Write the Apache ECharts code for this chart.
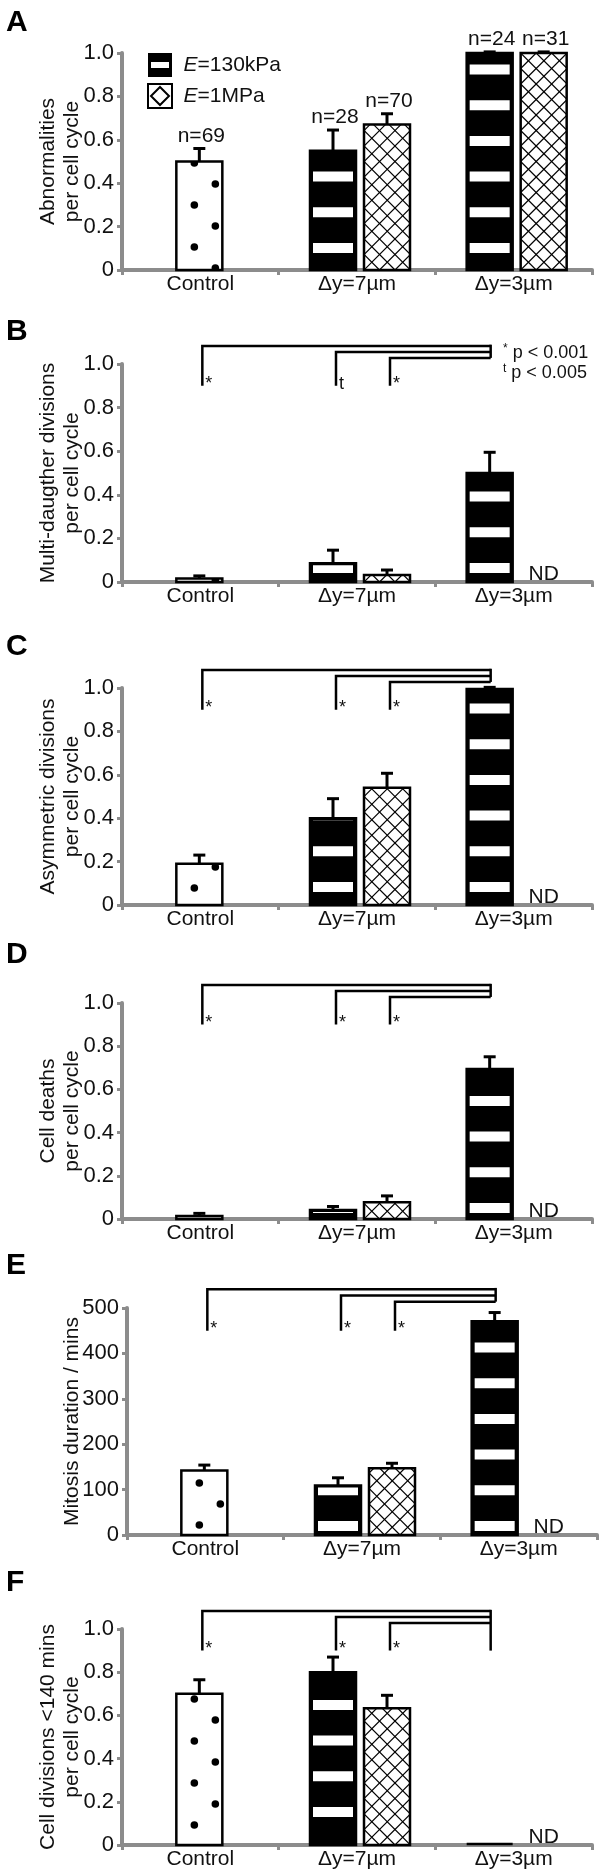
<!DOCTYPE html>
<html>
<head>
<meta charset="utf-8">
<script src="https://cdn.jsdelivr.net/npm/echarts@6/dist/echarts.min.js"></script>
<style>
  html, body { margin: 0; padding: 0; background: #fff; }
  #chart { width: 608px; height: 1876px; }
</style>
</head>
<body>
<div id="chart"></div>
<script>
// ---- data ----
const categories = ['Control', 'Δy=7µm', 'Δy=3µm'];
const panelLetters = ['A', 'B', 'C', 'D', 'E', 'F'];
const yTitles = [
  'Abnormalities\nper cell cycle',
  'Multi-daugther divisions\nper cell cycle',
  'Asymmetric divisions\nper cell cycle',
  'Cell deaths\nper cell cycle',
  'Mitosis duration / mins',
  'Cell divisions <140 mins\nper cell cycle'
];
const yMax = [1, 1, 1, 1, 500, 1];
const yStep = [0.2, 0.2, 0.2, 0.2, 100, 0.2];

// one entry per panel A..F
const controlMean = [0.50, 0.016, 0.19, 0.014, 142, 0.70];
const controlErr = [0.06, 0.012, 0.04, 0.012, 12, 0.065];
const soft7Mean = [0.55, 0.086, 0.40, 0.042, 109, 0.80];   // E=130kPa, Δy=7µm
const soft7Err = [0.095, 0.06, 0.09, 0.016, 17, 0.07];
const soft3Mean = [1.00, 0.50, 0.995, 0.695, 471, 0];      // E=130kPa, Δy=3µm
const soft3Err = [0.005, 0.095, 0.008, 0.056, 19, 0];
const stiff7Mean = [0.67, 0.032, 0.54, 0.078, 147, 0.633]; // E=1MPa, Δy=7µm
const stiff7Err = [0.05, 0.023, 0.067, 0.029, 11, 0.06];
const stiff3Mean = [1.00, null, null, null, null, null];   // E=1MPa, Δy=3µm (ND)
const stiff3Err = [0.005, null, null, null, null, null];

const controlN = ['n=69'];
const softN = ['n=28', 'n=24'];
const stiffN = ['n=70', 'n=31'];
const sigMarks = [null, ['*', 't', '*'], ['*', '*', '*'], ['*', '*', '*'], ['*', '*', '*'], ['*', '*', '*']];

// ---- layout / style ----
const FONT = '"Liberation Sans", Arial, sans-serif';
const GREY = '#8c8c8c';
const BAR_W = 46;
const SLOT_DX = { ctrl: -1, soft: -24, stiff: 30 };
const gridLeft = [122, 122, 122, 122, 127, 122];
const gridTop = [53, 364, 688, 1003, 1308, 1629];
const gridHeight = [217, 218, 217, 216, 227, 216];
const nameGap = [38, 38, 38, 38, 43, 38];
const letterTop = [8, 317, 632, 940, 1251, 1568];
const stripePhase = [17, 9, 13, 6, 4, 28];
const dotPhase = [23, 23, 17, 17, 10, 20];
const rightEnd = [null, 1.028, 1.028, 1.028, 1.028, 0.9];

function barRenderer(kind, p, labels) {
  return function (params, api) {
    const cat = api.value(0), v = api.value(1), e = api.value(2);
    const base = api.coord([cat, 0]);
    const top = api.coord([cat, v]);
    const cx = base[0] + SLOT_DX[kind];
    const x0 = cx - BAR_W / 2, x1 = cx + BAR_W / 2;
    const y0 = top[1], y1 = base[1], h = y1 - y0;
    const ink = { stroke: '#000', lineWidth: 3 };
    const kids = [];
    let textY = y0;
    if (e > 0) {
      const et = api.coord([cat, v + e])[1];
      kids.push({ type: 'line', shape: { x1: cx, y1: y0, x2: cx, y2: et }, style: ink });
      kids.push({ type: 'line', shape: { x1: cx - 6, y1: et, x2: cx + 6, y2: et }, style: ink });
      textY = et;
    }
    if (h < 1.5) {
      kids.push({ type: 'line', shape: { x1: x0, y1: y1 - 1, x2: x1, y2: y1 - 1 }, style: { stroke: '#000', lineWidth: 2.5 } });
    } else {
      kids.push({ type: 'rect', shape: { x: x0, y: y0, width: BAR_W, height: h }, style: { fill: kind === 'soft' ? '#000' : '#fff' } });
      const pat = [];
      if (kind === 'soft') {
        for (let yb = y1 - stripePhase[p]; yb > y0 + 2; yb -= 35.7) {
          const yt = Math.max(yb - 10, y0 + 2);
          pat.push({ type: 'rect', shape: { x: x0 + 3, y: yt, width: BAR_W - 6, height: yb - yt }, style: { fill: '#fff' } });
        }
      } else if (kind === 'stiff') {
        const s = 15.5;
        const hatch = { stroke: '#000', lineWidth: 1.2 };
        for (let c = y1 - x0; c >= y0 - x1; c -= s) {
          const xa = Math.max(x0, y0 - c), xb = Math.min(x1, y1 - c);
          if (xb > xa) pat.push({ type: 'line', shape: { x1: xa, y1: xa + c, x2: xb, y2: xb + c }, style: hatch });
        }
        for (let c = y0 + x0 - s * 2; c <= y1 + x1 + s; c += s) {
          const cc = c + ((y1 + x0) - (y0 + x0)) % s;
          const xa = Math.max(x0, cc - y1), xb = Math.min(x1, cc - y0);
          if (xb > xa) pat.push({ type: 'line', shape: { x1: xa, y1: cc - xa, x2: xb, y2: cc - xb }, style: hatch });
        }
      } else {
        const cols = [[x0 + 18, dotPhase[p]], [x0 + 39, (dotPhase[p] + 21) % 42]];
        cols.forEach(function (col) {
          for (let y = y1 - col[1]; y > y0 - 4; y -= 42) {
            pat.push({ type: 'circle', shape: { cx: col[0], cy: y, r: 3.8 }, style: { fill: '#000' } });
          }
        });
      }
      kids.push({ type: 'group', clipPath: { type: 'rect', shape: { x: x0, y: y0, width: BAR_W, height: h } }, children: pat });
      kids.push({ type: 'rect', shape: { x: x0, y: y0, width: BAR_W, height: h }, style: { fill: null, stroke: '#000', lineWidth: 2.5 } });
    }
    if (labels) {
      kids.push({
        type: 'text', x: cx + 2, y: textY - 2,
        style: { text: labels[params.dataIndex], fontSize: 21, fontFamily: FONT, fill: '#111', align: 'center', verticalAlign: 'bottom' }
      });
    }
    return { type: 'group', children: kids };
  };
}

function bracketRenderer(p) {
  return function (params, api) {
    const m = yMax[p];
    const X = (cat, slot) => api.coord([cat, 0])[0] + SLOT_DX[slot];
    const Y = f => api.coord([0, f * m])[1];
    const xr = X(2, 'soft') + 1;
    const from = [X(0, 'ctrl') + 3, X(1, 'soft') + 3, X(1, 'stiff') + 3];
    const levels = [1.083, 1.055, 1.028];
    const line = { stroke: '#000', lineWidth: 2.5, fill: null };
    const kids = [];
    from.forEach(function (x, k) {
      kids.push({ type: 'polyline', shape: { points: [[x, Y(0.9)], [x, Y(levels[k])], [xr, Y(levels[k])]] }, style: line });
      kids.push({
        type: 'text', x: x + 3, y: Y(0.9) + 7,
        style: { text: sigMarks[p][k], fontSize: 18, fontFamily: FONT, fill: '#111', align: 'left', verticalAlign: 'bottom' }
      });
    });
    kids.push({ type: 'line', shape: { x1: xr, y1: Y(levels[0]) - 1.25, x2: xr, y2: Y(rightEnd[p]) }, style: line });
    return { type: 'group', children: kids };
  };
}

function ndRenderer(params, api) {
  const base = api.coord([api.value(0), 0]);
  return {
    type: 'text', x: base[0] + SLOT_DX.stiff, y: base[1] + 3,
    style: { text: 'ND', fontSize: 21, fontFamily: FONT, fill: '#111', align: 'center', verticalAlign: 'bottom' }
  };
}

const grids = [], xAxes = [], yAxes = [], series = [];
for (let p = 0; p < 6; p++) {
  grids.push({ left: gridLeft[p], top: gridTop[p], width: 470, height: gridHeight[p] });
  xAxes.push({
    gridIndex: p, type: 'category', data: categories,
    axisLine: { lineStyle: { color: GREY, width: 4 } },
    axisTick: { show: true, length: 5, lineStyle: { color: GREY, width: 3 } },
    axisLabel: { color: '#111', fontSize: 21, fontFamily: FONT, margin: 4 }
  });
  yAxes.push({
    gridIndex: p, type: 'value', min: 0, max: yMax[p], interval: yStep[p],
    splitLine: { show: false },
    axisLine: { show: true, lineStyle: { color: GREY, width: 4 } },
    axisTick: { show: true, length: 5, lineStyle: { color: GREY, width: 3 } },
    axisLabel: {
      color: '#111', fontSize: 22, fontFamily: FONT, margin: 8,
      formatter: v => (v === 0 ? '0' : (yMax[p] === 1 ? v.toFixed(1) : String(v)))
    },
    name: yTitles[p], nameLocation: 'middle', nameGap: nameGap[p], nameMoveOverlap: false,
    nameTextStyle: { color: '#111', fontSize: 21, fontFamily: FONT, lineHeight: 24 }
  });

  const common = { type: 'custom', xAxisIndex: p, yAxisIndex: p, encode: { x: 0, y: 1 } };
  series.push(Object.assign({}, common, {
    name: 'Control', renderItem: barRenderer('ctrl', p, p === 0 ? controlN : null),
    data: [[0, controlMean[p], controlErr[p]]]
  }));
  series.push(Object.assign({}, common, {
    name: 'E=130kPa', itemStyle: { color: '#000' }, renderItem: barRenderer('soft', p, p === 0 ? softN : null),
    data: [[1, soft7Mean[p], soft7Err[p]], [2, soft3Mean[p], soft3Err[p]]]
  }));
  const stiffData = [[1, stiff7Mean[p], stiff7Err[p]]];
  if (stiff3Mean[p] !== null) stiffData.push([2, stiff3Mean[p], stiff3Err[p]]);
  series.push(Object.assign({}, common, {
    name: 'E=1MPa', itemStyle: { color: '#fff' }, renderItem: barRenderer('stiff', p, p === 0 ? stiffN : null),
    data: stiffData
  }));
  if (stiff3Mean[p] === null) {
    series.push(Object.assign({}, common, { name: 'ND', renderItem: ndRenderer, data: [[2, 0]] }));
  }
  if (sigMarks[p]) {
    series.push(Object.assign({}, common, { name: 'sig', renderItem: bracketRenderer(p), data: [[0, 0]] }));
  }
}

const titles = panelLetters.map((t, i) => ({
  text: t, left: 6, top: letterTop[i], padding: 0,
  textStyle: { fontSize: 30, fontWeight: 'bold', color: '#000', fontFamily: FONT }
}));
titles.push({
  left: 503, top: 343, padding: 0,
  text: '{m|*} p < 0.001\n{m|t} p < 0.005',
  textStyle: {
    fontSize: 18, lineHeight: 20, fontWeight: 'normal', color: '#111', fontFamily: FONT,
    rich: { m: { fontSize: 12, lineHeight: 20, verticalAlign: 'top', fontFamily: FONT, color: '#111' } }
  }
});

const chart = echarts.init(document.getElementById('chart'), null, { renderer: 'canvas' });
chart.setOption({
  animation: false,
  backgroundColor: '#fff',
  title: titles,
  legend: {
    left: 147, top: 53, orient: 'vertical', padding: 0,
    itemWidth: 25, itemHeight: 24, itemGap: 6, selectedMode: false,
    data: [
      { name: 'E=130kPa', icon: 'path://M0,0H24V24H0Z M3,9V15H21V9Z', itemStyle: { color: '#000', borderWidth: 0 } },
      { name: 'E=1MPa', icon: 'path://M0,0H24V24H0Z M12,3L21,12L12,21L3,12Z', itemStyle: { color: '#fff', borderColor: '#000', borderWidth: 2 } }
    ],
    formatter: n => '{i|E}{t|' + n.slice(1) + '}',
    textStyle: {
      fontSize: 21, fontFamily: FONT, color: '#111',
      rich: {
        i: { fontSize: 21, fontFamily: FONT, fontStyle: 'italic', color: '#111', padding: [0, 0, 0, 6] },
        t: { fontSize: 21, fontFamily: FONT, color: '#111' }
      }
    }
  },
  grid: grids,
  xAxis: xAxes,
  yAxis: yAxes,
  series: series
});
</script>
</body>
</html>
